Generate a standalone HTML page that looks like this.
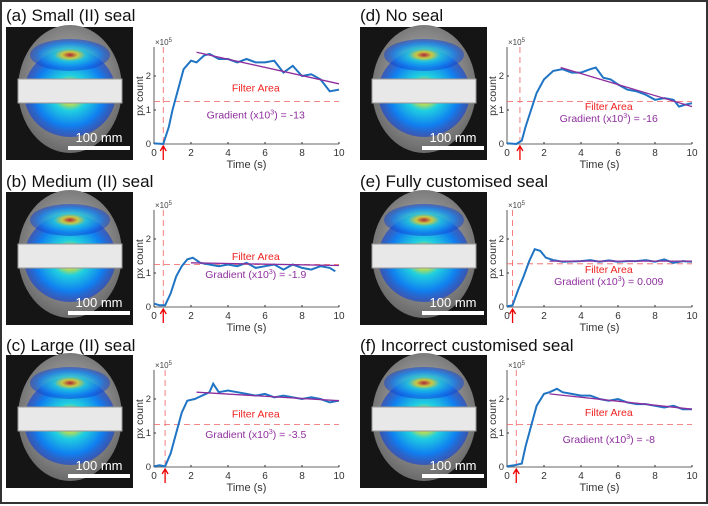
<!DOCTYPE html>
<html><head><meta charset="utf-8">
<style>
body{margin:0;background:#fff;}
#fig{position:relative;width:708px;height:506px;overflow:hidden;font-family:"Liberation Sans",sans-serif;}
svg text{font-family:"Liberation Sans",sans-serif;}
</style></head>
<body>
<div id="fig">
<svg id="svg" width="708" height="506" viewBox="0 0 708 506">
<defs>
<radialGradient id="heat" cx="50%" cy="50%" r="50%">
<stop offset="0" stop-color="#d01010"/><stop offset="0.2" stop-color="#f0e020"/>
<stop offset="0.4" stop-color="#20d0e0"/><stop offset="0.75" stop-color="#1080f0"/>
<stop offset="1" stop-color="#1040d0" stop-opacity="0.6"/></radialGradient>
<radialGradient id="face" cx="50%" cy="45%" r="55%">
<stop offset="0" stop-color="#c8c8c8"/><stop offset="1" stop-color="#6a6a6a"/></radialGradient>
</defs>
<rect x="1" y="1" width="706" height="502" fill="none" stroke="#333" stroke-width="2"/>
</svg>
</div>
<script>
const panelTitles=["(a) Small (II) seal","(b) Medium (II) seal","(c) Large (II) seal","(d) No seal","(e) Fully customised seal","(f) Incorrect customised seal"];
const gradients=["-13","-1.9","-3.5","-16","0.009","-8"];
const timeA=[0,0.5,0.8,1.0,1.3,1.6,2,2.3,2.7,3,3.5,4,4.5,5,5.5,6,6.5,7,7.5,8,8.5,9,9.5,10];
const valA=[0.02,0,0.5,1.0,1.6,2.2,2.45,2.4,2.6,2.65,2.5,2.5,2.4,2.5,2.4,2.4,2.45,2.1,2.3,2.0,2.05,1.9,1.55,1.6];
const timeB=[0,0.3,0.6,0.9,1.2,1.5,1.8,2.1,2.5,3,3.5,4,4.5,5,5.5,6,6.5,7,7.5,8,8.5,9,9.5,9.8];
const valB=[0.1,0.05,0.05,0.4,0.9,1.2,1.4,1.45,1.3,1.25,1.2,1.25,1.2,1.3,1.15,1.2,1.25,1.1,1.25,1.15,1.1,1.2,1.15,1.05];
const timeC=[0,0.3,0.6,0.9,1.2,1.5,1.8,2.2,2.6,3,3.2,3.5,4,4.5,5,5.5,6,6.5,7,7.5,8,8.5,9,9.5,10];
const valC=[0.02,0.05,0.02,0.4,1.0,1.6,1.95,2.0,2.1,2.2,2.45,2.2,2.25,2.2,2.15,2.1,2.15,2.05,2.1,2.05,2.0,2.05,2.0,1.9,1.95];
const timeD=[0,0.5,0.8,1.0,1.3,1.6,2,2.5,3,3.5,4,4.5,4.8,5.2,5.6,6,6.5,7,7.5,8,8.5,9,9.3,9.6,10];
const valD=[0.02,0,0.1,0.5,1.0,1.5,1.9,2.15,2.2,2.1,2.1,2.2,2.25,1.95,1.9,1.75,1.6,1.55,1.45,1.3,1.35,1.3,1.1,1.15,1.2];
const timeE=[0,0.3,0.6,0.9,1.2,1.5,1.8,2.1,2.5,3,4,4.5,5,5.5,6,6.5,7,7.5,8,8.5,9,9.5,10];
const valE=[0.02,0.05,0.5,0.9,1.35,1.7,1.65,1.45,1.38,1.33,1.35,1.38,1.33,1.37,1.33,1.35,1.35,1.38,1.33,1.4,1.3,1.35,1.33];
const timeF=[0,0.4,0.8,1.0,1.3,1.6,2,2.3,2.7,3,3.5,4,4.5,5,5.5,6,6.5,7,7.5,8,8.5,9,9.5,10];
const valF=[0.02,0.05,0.1,0.6,1.2,1.8,2.15,2.2,2.3,2.2,2.15,2.1,2.1,2.0,1.95,2.0,1.9,1.85,1.85,1.8,1.75,1.8,1.7,1.7];
const fitStart=[[2.3,2.7],[2.0,1.3],[2.3,2.2],[2.9,2.25],[2.3,1.35],[2.3,2.15]];
const fitEnd=[[10,1.77],[10,1.22],[10,1.95],[10,1.1],[10,1.35],[10,1.7]];
const filterLevel=[1.25,1.25,1.25,1.25,1.27,1.25];
const startTime=[0.5,0.5,0.6,0.7,0.3,0.5];
const filterLabelY=[1.55,1.38,1.45,1.0,1.0,1.5];
const gradLabelY=[0.75,0.85,0.85,0.65,0.65,0.7];
const xTicks=[0,2,4,6,8,10];
const yTicks=[0,1,2];
const series=[[timeA,valA],[timeB,valB],[timeC,valC],[timeD,valD],[timeE,valE],[timeF,valF]];

const svg=document.getElementById('svg');
const NS='http://www.w3.org/2000/svg';
function mk(tag,attrs,parent){const e=document.createElementNS(NS,tag);for(const k in attrs)e.setAttribute(k,attrs[k]);(parent||svg).appendChild(e);return e;}
const colX=[[6,154],[360,507]];
const rowY=[[27,144,21],[192,307,187],[355,467,351]];
const X_SC=18.5, Y_SC=34;

for(let p=0;p<6;p++){
  const col=p<3?0:1,row=p%3;
  const [px,x0]=colX[col];const [py,y0,ty]=rowY[row];
  const g=mk('g',{});
  
  
  const t=mk('text',{x:px,y:ty,'font-size':'17',fill:'#111'},g);t.textContent=panelTitles[p];
  
  
  const ph=mk('g',{},g);
  
  
  mk('rect',{x:px,y:py,width:127,height:133,fill:'#151515'},ph);
  mk('ellipse',{cx:px+64,cy:py+62,rx:52,ry:64,fill:'url(#face)'},ph);
  mk('ellipse',{cx:px+64,cy:py+66,rx:46,ry:44,fill:'url(#heat)'},ph);
  mk('ellipse',{cx:px+64,cy:py+28,rx:40,ry:16,fill:'url(#heat)',opacity:0.8},ph);
  mk('rect',{x:px+12,y:py+52,width:104,height:24,fill:'#e8e8e8',stroke:'#999'},ph);
  mk('rect',{x:px+62,y:py+119,width:62,height:4,fill:'#fff'},ph);
  const sb=mk('text',{x:px+93,y:py+115,'font-size':'13',fill:'#fff','text-anchor':'middle'},ph);sb.textContent='100 mm';
  
  
  const ax=mk('g',{},g);
  
  
  const xs=v=>x0+v*X_SC, ys=v=>y0-v*Y_SC;
  mk('line',{x1:x0,y1:y0-97,x2:x0,y2:y0,stroke:'#333','stroke-width':0.8},ax);
  mk('line',{x1:x0,y1:y0,x2:xs(10),y2:y0,stroke:'#333','stroke-width':0.8},ax);
  xTicks.forEach(v=>{mk('line',{x1:xs(v),y1:y0,x2:xs(v),y2:y0-2,stroke:'#333'},ax);
    const tl=mk('text',{x:xs(v),y:y0+12,'font-size':'10','text-anchor':'middle',fill:'#333'},ax);tl.textContent=v;
    
    });
  yTicks.forEach(v=>{mk('line',{x1:x0,y1:ys(v),x2:x0+2,y2:ys(v),stroke:'#333'},ax);
    const tl=mk('text',{x:x0-3,y:ys(v)+3,'font-size':'9.5','text-anchor':'end',fill:'#333'},ax);tl.textContent=v;
    
    });
  const ex=mk('text',{x:x0+1,y:y0-99,'font-size':'8',fill:'#444'},ax);ex.innerHTML='×10<tspan dy="-3" font-size="6">5</tspan>';
  
  
  const yl=mk('text',{x:0,y:0,'font-size':'10.5',fill:'#333','text-anchor':'middle',transform:`translate(${x0-11},${y0-48}) rotate(-90)`},ax);yl.textContent='px count';
  
  
  const xl=mk('text',{x:xs(5),y:y0+24,'font-size':'11',fill:'#333','text-anchor':'middle'},ax);xl.textContent='Time (s)';
  
  
  const fl=mk('line',{x1:x0,y1:ys(filterLevel[p]),x2:xs(10),y2:ys(filterLevel[p]),stroke:'#f06060','stroke-dasharray':'6,4','stroke-width':0.8},g);
  
  
  const vl=mk('line',{x1:xs(startTime[p]),y1:y0-97,x2:xs(startTime[p]),y2:y0,stroke:'#f06060','stroke-dasharray':'6,4','stroke-width':0.8},g);
  
  
  const ar=mk('path',{d:`M${xs(startTime[p])},${y0+16}V${y0+3}M${xs(startTime[p])-3},${y0+7}L${xs(startTime[p])},${y0+2}L${xs(startTime[p])+3},${y0+7}`,stroke:'#e00',fill:'none','stroke-width':1.3},g);
  
  
  const [tt,vv]=series[p];
  const ln=mk('polyline',{points:tt.map((t,i)=>xs(t)+','+ys(vv[i])).join(' '),fill:'none',stroke:'#1f74c4','stroke-width':2},g);
  
  
  const fit=mk('line',{x1:xs(fitStart[p][0]),y1:ys(fitStart[p][1]),x2:xs(fitEnd[p][0]),y2:ys(fitEnd[p][1]),stroke:'#8e2e9e','stroke-width':1.3},g);
  
  
  const fa=mk('text',{x:xs(5.5),y:ys(filterLabelY[p]),'font-size':'10.5','text-anchor':'middle',fill:'#f02020'},g);fa.textContent='Filter Area';
  
  
  const gl=mk('text',{x:xs(5.5),y:ys(gradLabelY[p]),'font-size':'10.5','text-anchor':'middle',fill:'#8e2e9e'},g);
  gl.innerHTML='Gradient (x10<tspan dy="-4" font-size="7">3</tspan><tspan dy="4">) = '+gradients[p]+'</tspan>';
  
  
}
</script>
</body></html>
